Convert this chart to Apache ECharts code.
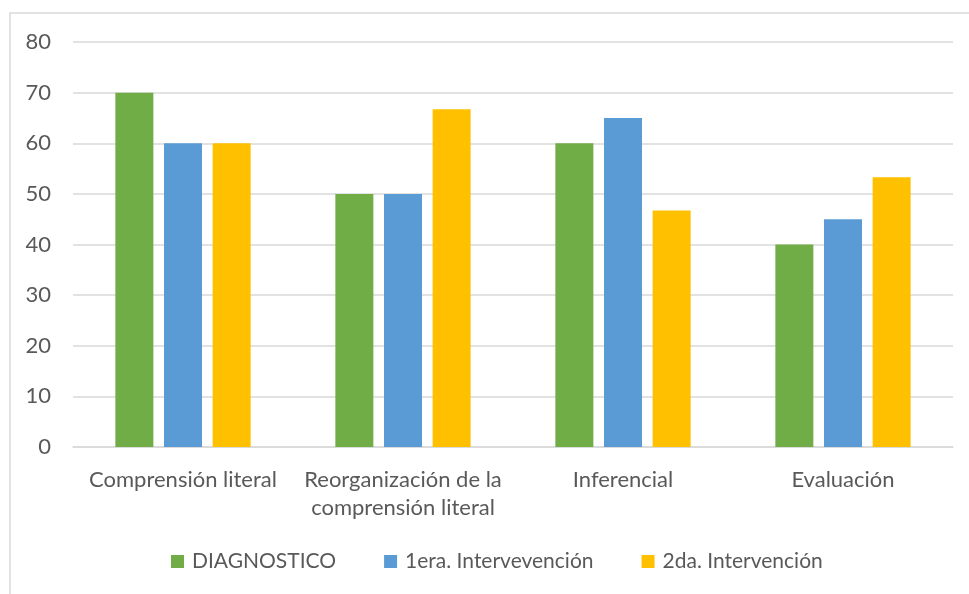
<!DOCTYPE html>
<html>
<head>
<meta charset="utf-8">
<script src="https://cdn.jsdelivr.net/npm/echarts@6/dist/echarts.min.js"></script>
<style>
  html, body { margin: 0; padding: 0; background: #fff; }
  #chart { width: 969px; height: 594px; }
</style>
</head>
<body>
<div id="chart"></div>
<script>
const categories = ["Comprensión literal", "Reorganización de la\ncomprensión literal", "Inferencial", "Evaluación"];
const diagnostico = [70, 50, 60, 40];
const primeraIntervencion = [60, 50, 65, 45];
const segundaIntervencion = [60, 66.7, 46.7, 53.3];
const seriesNames = ["DIAGNOSTICO", "1era. Intervevención", "2da. Intervención"];
const colors = ["#70AD47", "#5B9BD5", "#FFC000"];

const font = "Lato, 'Open Sans', sans-serif";
const textColor = "#595959";

let chart = echarts.init(document.getElementById("chart"));

function bar(name, data, color) {
  return {
    name: name,
    type: "bar",
    data: data,
    barWidth: 38,
    barGap: "28%",
    itemStyle: { color: color },
  };
}

chart.setOption({
  animation: false,
  color: colors,
  graphic: [
    {
      type: "rect",
      shape: { x: 10, y: 13, width: 980, height: 620 },
      style: { fill: "none", stroke: "#d9d9d9", lineWidth: 1.5 },
      z: -1,
    },
  ],
  grid: {
    left: 73,
    right: 16,
    top: 42,
    bottom: 147,
  },
  legend: {
    bottom: 22,
    left: 171,
    padding: 0,
    itemWidth: 13,
    itemHeight: 13,
    itemGap: 48,
    icon: "rect",
    textStyle: { fontFamily: font, fontSize: 21, color: textColor, padding: [0, 0, 0, 3] },
    data: seriesNames,
  },
  xAxis: {
    type: "category",
    data: categories,
    axisLine: { lineStyle: { color: "#d9d9d9", width: 1.5 } },
    axisTick: { show: false },
    axisLabel: {
      fontFamily: font,
      fontSize: 22,
      color: textColor,
      margin: 19,
      lineHeight: 28,
      interval: 0,
    },
  },
  yAxis: {
    type: "value",
    min: 0,
    max: 80,
    interval: 10,
    axisLine: { show: false },
    axisTick: { show: false },
    splitLine: { lineStyle: { color: "#d9d9d9", width: 1.5 } },
    axisLabel: {
      fontFamily: font,
      fontSize: 22,
      color: textColor,
      margin: 22,
    },
  },
  series: [
    bar(seriesNames[0], diagnostico, colors[0]),
    bar(seriesNames[1], primeraIntervencion, colors[1]),
    bar(seriesNames[2], segundaIntervencion, colors[2]),
  ],
});

window.addEventListener("resize", function () {
  chart.resize();
});
</script>
</body>
</html>
